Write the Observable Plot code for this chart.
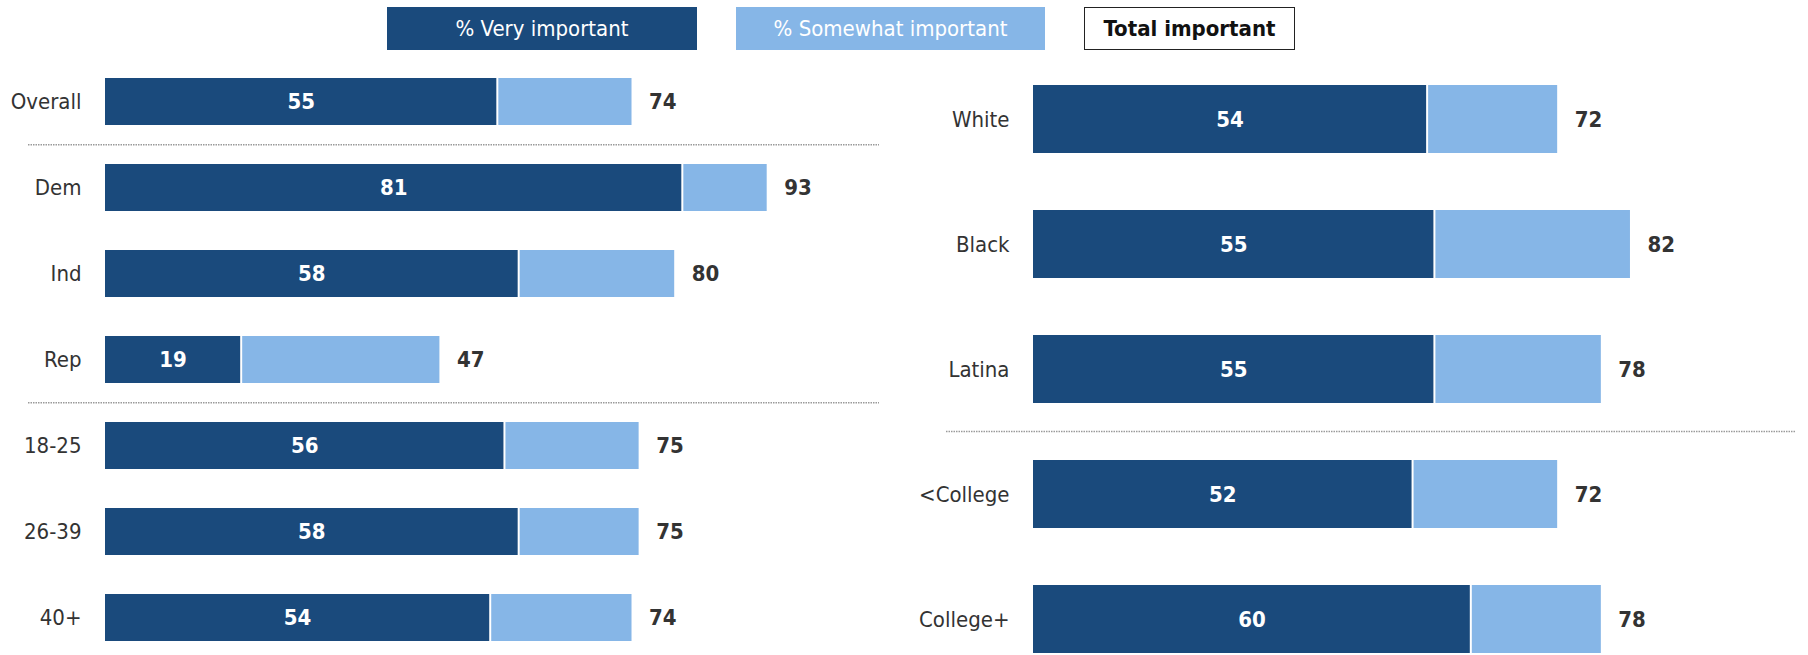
<!DOCTYPE html>
<html><head><meta charset="utf-8">
<script src="https://cdn.jsdelivr.net/npm/d3@7"></script>
<script src="https://cdn.jsdelivr.net/npm/@observablehq/plot@0.6"></script>
<style>
body{margin:0;background:#fff;width:1808px;height:655px;overflow:hidden;font-family:"Liberation Sans Narrow","Arial Narrow","DejaVu Sans Condensed",sans-serif;}
#legend{position:relative;height:56px;}
.lg{position:absolute;top:7px;height:43px;display:flex;align-items:center;justify-content:center;font-size:22px;box-sizing:border-box;}
#charts{display:flex;}
</style></head><body>
<div id="legend"></div>
<div id="charts"><div id="left"></div><div id="right"></div></div>
<script>
const FONT = '"Liberation Sans Narrow","Arial Narrow","DejaVu Sans Condensed",sans-serif';
const DARK = "#1a4a7c", LIGHT = "#86b6e7", TXT = "#333333";

const legendLabels = ["% Very important", "% Somewhat important", "Total important"];

const leftCategories = ["Overall", "Dem", "Ind", "Rep", "18-25", "26-39", "40+"];
const leftVery = [55, 81, 58, 19, 56, 58, 54];
const leftTotal = [74, 93, 80, 47, 75, 75, 74];
const leftBreaks = ["Dem", "18-25"];

const rightCategories = ["White", "Black", "Latina", "<College", "College+"];
const rightVery = [54, 55, 55, 52, 60];
const rightTotal = [72, 82, 78, 72, 78];
const rightBreaks = ["<College"];

// legend
const lg = document.getElementById("legend");
const legendStyles = [
  {left: 387, width: 310, bg: DARK, color: "#fff", weight: "normal", border: "none"},
  {left: 736, width: 309, bg: LIGHT, color: "#fff", weight: "normal", border: "none"},
  {left: 1084, width: 211, bg: "#fff", color: "#111", weight: "bold", border: "1.5px solid #222"}
];
legendLabels.forEach((t, i) => {
  const s = legendStyles[i];
  const d = document.createElement("div");
  d.className = "lg";
  d.textContent = t;
  Object.assign(d.style, {left: s.left + "px", width: s.width + "px", background: s.bg, color: s.color, fontWeight: s.weight, border: s.border});
  lg.appendChild(d);
});

function panel({cats, very, total, breaks, width, height, marginLeft, marginRight, marginTop, marginBottom, pad, insetL, insetR}) {
  const data = cats.map((c, i) => ({cat: c, very: very[i], total: total[i]}));
  const step = (height - marginTop - marginBottom) / (cats.length - pad);
  return Plot.plot({
    width, height, marginLeft, marginRight, marginTop, marginBottom,
    style: {fontFamily: FONT, fontSize: "22px", background: "#fff"},
    x: {domain: [0, 100], axis: null},
    y: {domain: cats, paddingInner: pad, paddingOuter: 0, label: null},
    marks: [
      Plot.barX(data, {y: "cat", x1: 0, x2: "very", fill: DARK}),
      Plot.barX(data, {y: "cat", x1: "very", x2: "total", fill: LIGHT, insetLeft: 2}),
      Plot.ruleY(breaks, {y: d => d, dy: -step / 2, stroke: "#9a9a9a", strokeWidth: 1.5, strokeDasharray: "1.5,1", insetLeft: insetL, insetRight: insetR}),
      Plot.text(data, {y: "cat", x: d => d.very / 2, text: d => String(d.very), fill: "#fff", fontWeight: "bold", fontSize: 22}),
      Plot.text(data, {y: "cat", x: "total", text: d => String(d.total), dx: 17, textAnchor: "start", fill: TXT, fontWeight: "bold", fontSize: 22}),
      Plot.axisY({tickSize: 0, tickPadding: 24, fontSize: 22, fill: TXT, label: null})
    ]
  });
}

document.getElementById("left").appendChild(panel({
  cats: leftCategories, very: leftVery, total: leftTotal, breaks: leftBreaks,
  width: 900, height: 599, marginLeft: 105, marginRight: 83.5, marginTop: 21, marginBottom: 13, pad: 0.4525,
  insetL: -77, insetR: -62.5
}));
document.getElementById("right").appendChild(panel({
  cats: rightCategories, very: rightVery, total: rightTotal, breaks: rightBreaks,
  width: 908, height: 599, marginLeft: 133, marginRight: 47, marginTop: 27, marginBottom: 0, pad: 0.4537,
  insetL: -87, insetR: -34
}));
</script>
</body></html>
